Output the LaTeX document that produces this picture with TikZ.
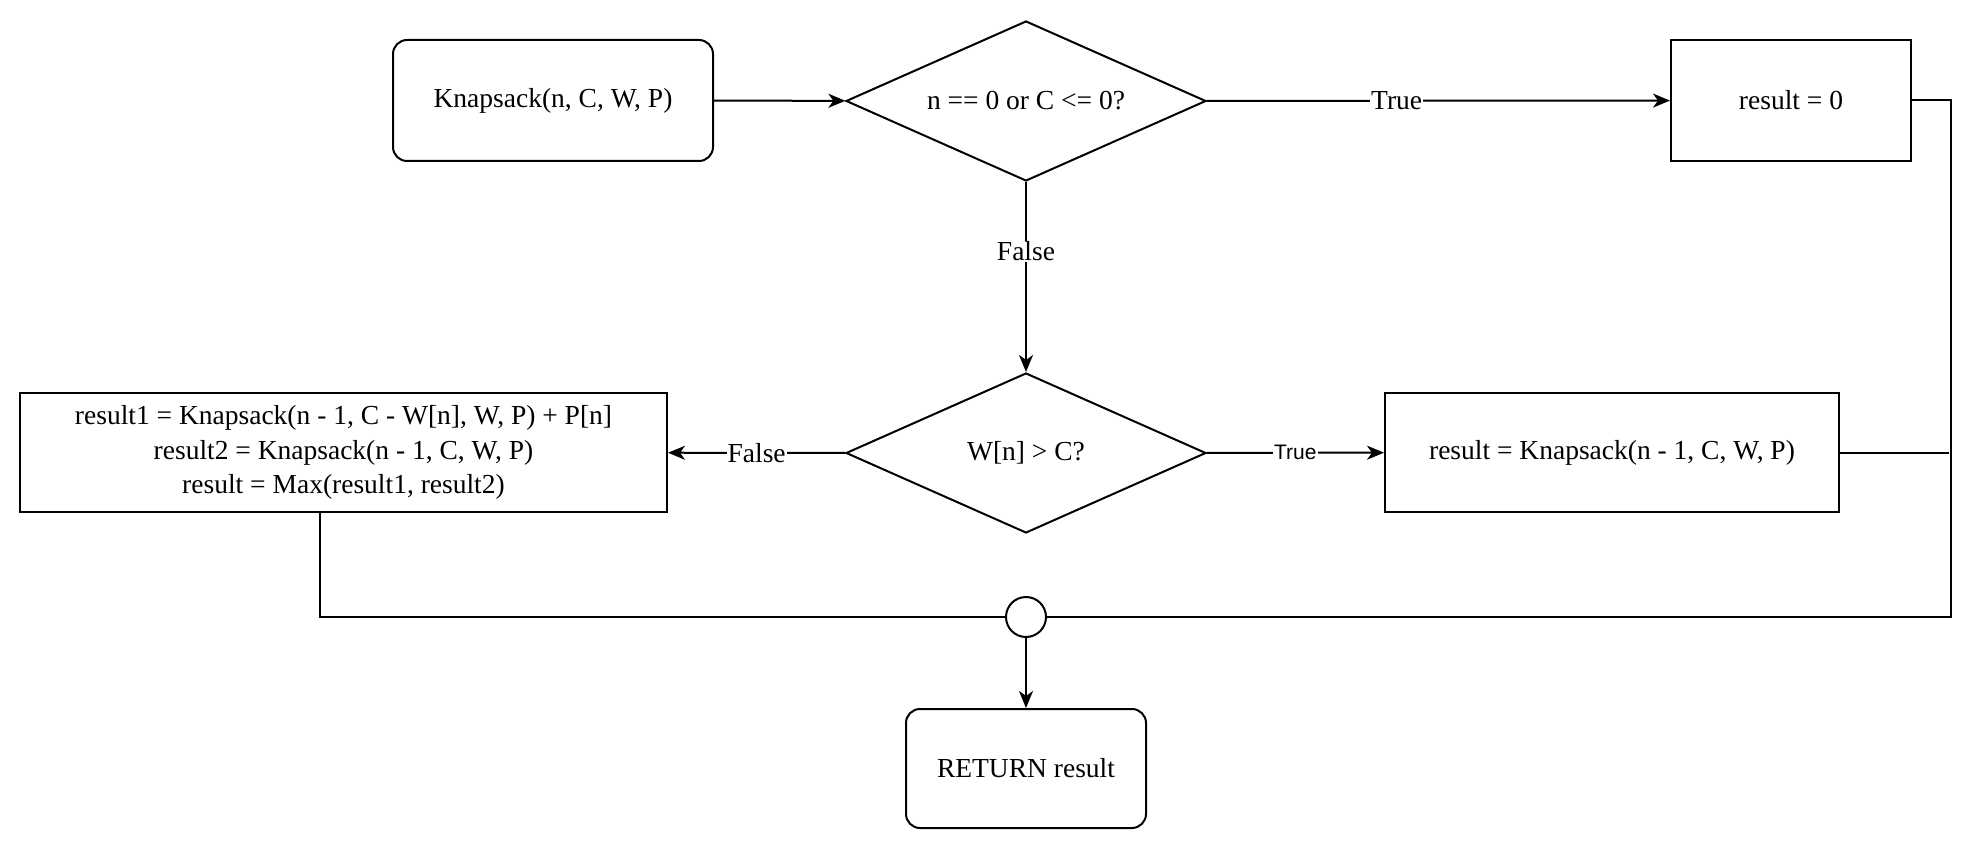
\documentclass[tikz,border=0pt]{standalone}
\usepackage{fontspec}
\setmainfont{Liberation Serif}
\newfontfamily\labelsans{Liberation Sans}
\usetikzlibrary{shapes.geometric, arrows.meta}

\begin{document}
\begin{tikzpicture}[x=1pt, y=-1pt, line width=2pt,
        >={Stealth[length=17pt, width=14pt, inset=5pt]},
        font=\fontsize{27.5}{34.6}\selectfont,
        box/.style={draw, rectangle, inner sep=0pt, align=center},
        roundbox/.style={box, rounded corners=14pt},
        decision/.style={draw, diamond, aspect=2.25, inner sep=0pt, minimum width=360pt, minimum height=160pt},
        junction/.style={draw, circle, inner sep=0pt, minimum size=40pt},
        lbl/.style={fill=white, inner sep=1pt}]
        \useasboundingbox (0, 0) rectangle (1974, 850);

        % Entry
        \node[roundbox, minimum width=320pt, minimum height=121pt] (start) at (553, 100.5) {Knapsack(n, C, W, P)};

        % Base case test
        \node[decision] (basecase) at (1026, 101) {n == 0 or C <= 0?};

        % Base case result
        \node[box, minimum width=240pt, minimum height=121pt] (zero) at (1791, 100.5) {result = 0};

        % Weight test
        \node[decision] (weight) at (1026, 453) {W[n] > C?};

        % Take or skip item
        \node[box, minimum width=647pt, minimum height=119pt] (takeitem) at (343.5, 452.5) {
            result1 = Knapsack(n - 1, C - W[n], W, P) + P[n] \\
            result2 = Knapsack(n - 1, C, W, P) \\
            result = Max(result1, result2)
        };

        % Skip item
        \node[box, minimum width=454pt, minimum height=119pt] (skipitem) at (1612, 452.5) {result = Knapsack(n - 1, C, W, P)};

        % Merge point
        \node[junction] (merge) at (1026, 617) {};
        \coordinate (rail) at (1951, 617);

        % Return
        \node[roundbox, minimum width=240pt, minimum height=119pt] (return) at (1026, 768.5) {RETURN result};

        % Relations
        \draw[->] (start) -- (basecase);
        \draw[->] (basecase) -- node[lbl, pos=0.41] {True} (zero);
        \draw[->] (basecase) -- node[lbl, pos=0.365] {False} (weight);
        \draw[->] (weight) -- node[lbl] {\labelsans\fontsize{21}{25}\selectfont True} (skipitem);
        \draw[->] (weight) -- node[lbl] {False} (takeitem);
        % outer paths back to the merge point
        \draw (zero.east) -| (rail) -- (merge.east);
        \draw (skipitem.east) -- ([xshift=-2pt]skipitem.east -| rail);
        \draw ([xshift=-24pt]takeitem.south) |- (merge.west);
        \draw[->] (merge) -- (return);
    \end{tikzpicture}
\end{document}
